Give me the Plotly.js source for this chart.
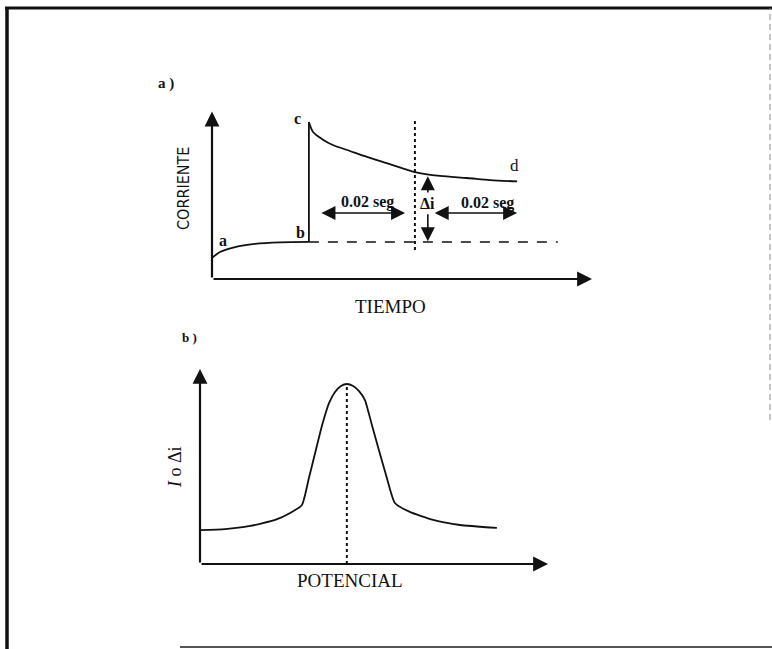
<!DOCTYPE html>
<html>
<head>
<meta charset="utf-8">
<script src="https://cdn.plot.ly/plotly-3.0.1.min.js"></script>
<style>html,body{margin:0;padding:0;background:#fff;}#chart{width:772px;height:649px;}</style>
</head>
<body>
<div id="chart"></div>
<script>
// ---- Panel a) : corriente vs tiempo (arbitrary units 0-100) ----
const tRise  = [0, 2.1, 6.1, 11.3, 17.9, 25.5];
const iRise  = [12.4, 15.9, 18.8, 20.6, 21.5, 21.8];
const tJump  = [25.5, 25.5];
const iJump  = [21.8, 92.4];
const tDecay = [25.5, 26.6, 28.9, 31.8, 36.3, 40.8, 46.8, 53.4, 60.0, 67.1, 73.2, 80.3];
const iDecay = [92.4, 86.5, 82.4, 78.8, 75.3, 71.8, 67.6, 62.9, 60.6, 59.4, 58.2, 57.4];
const tBase  = [25.5, 91];
const iBase  = [21.8, 21.8];
const tSample = [53.4, 53.4];
const iSample = [17, 93.5];

// ---- Panel b) : I o Δi vs potencial ----
const potB = [0, 7.2, 14.4, 21.6, 25.9, 29.3, 31.3, 33.3, 35.1, 37.1, 38.8, 40.5, 42.2, 44.0, 45.7, 47.4, 49.4, 51.4, 53.7, 56.0, 60.3, 67.0, 74.7, 85.3];
const curB = [17.4, 17.9, 19.5, 22.6, 26.2, 30.3, 44.1, 58.5, 71.3, 82.6, 88.2, 91.3, 92.3, 91.3, 88.7, 84.1, 71.3, 58.5, 44.1, 31.3, 26.7, 22.6, 20.0, 18.5];
const potPeak = [42.2, 42.2];
const curPeak = [0, 92.3];

const ink = '#111';
const serif = 'Liberation Serif, Times New Roman, serif';
const narrow = 'DejaVu Sans Condensed, Liberation Sans Narrow, Liberation Sans, Arial, sans-serif';

const traces = [
  {x: tRise, y: iRise, xaxis: 'x', yaxis: 'y', mode: 'lines', line: {color: ink, width: 1.8, shape: 'spline', smoothing: 0.8}},
  {x: tJump, y: iJump, xaxis: 'x', yaxis: 'y', mode: 'lines', line: {color: ink, width: 1.8}},
  {x: tDecay, y: iDecay, xaxis: 'x', yaxis: 'y', mode: 'lines', line: {color: ink, width: 1.8, shape: 'spline', smoothing: 0.8}},
  {x: tBase, y: iBase, xaxis: 'x', yaxis: 'y', mode: 'lines', line: {color: ink, width: 1.6, dash: '10px,9px'}},
  {x: tSample, y: iSample, xaxis: 'x', yaxis: 'y', mode: 'lines', line: {color: ink, width: 2, dash: '3px,3px'}},
  {x: potB, y: curB, xaxis: 'x2', yaxis: 'y2', mode: 'lines', line: {color: ink, width: 1.8, shape: 'spline', smoothing: 0.5}},
  {x: potPeak, y: curPeak, xaxis: 'x2', yaxis: 'y2', mode: 'lines', line: {color: ink, width: 2, dash: '3px,3px'}}
];

function arrow(xr, yr, x0, y0, x1, y1, w, s, both) {
  return {xref: xr, yref: yr, axref: xr, ayref: yr, x: x1, y: y1, ax: x0, ay: y0,
    text: '', showarrow: true, arrowhead: 2, arrowsize: s, arrowwidth: w, arrowcolor: ink,
    arrowside: both ? 'end+start' : 'end', startarrowhead: 2, startarrowsize: s};
}
function label(xr, yr, x, y, txt, size, fam, extra) {
  return Object.assign({xref: xr, yref: yr, x: x, y: y, text: txt, showarrow: false,
    font: {family: fam || serif, size: size, color: ink}, xanchor: 'center', yanchor: 'middle'}, extra || {});
}

const annotations = [
  // axes with arrows
  arrow('x', 'y', 0, 0, 0, 98.5, 2.2, 1.35, false),
  arrow('x', 'y', 0, 0, 100, 0, 2.2, 1.35, false),
  arrow('x2', 'y2', 0, 0, 0, 100, 2.2, 1.35, false),
  arrow('x2', 'y2', 0, 0, 100, 0, 2.2, 1.35, false),
  // interval arrows
  arrow('x', 'y', 28.4, 38.8, 50.8, 38.8, 1.6, 1.75, true),
  arrow('x', 'y', 58.2, 38.8, 80.3, 38.8, 1.6, 1.75, true),
  // Δi arrows
  arrow('x', 'y', 56.8, 50, 56.8, 60.4, 1.6, 1.75, false),
  arrow('x', 'y', 56.8, 39, 56.8, 22.2, 1.6, 1.75, false),
  // labels panel a
  label('x', 'y', 2.9, 22.9, '<b>a</b>', 16),
  label('x', 'y', 23.2, 27.6, '<b>b</b>', 16),
  label('x', 'y', 22.6, 94.7, '<b>c</b>', 16),
  label('x', 'y', 79.7, 66.5, 'd', 17),
  label('x', 'y', 40.8, 45.3, '<b>0.02 seg</b>', 16),
  label('x', 'y', 72.6, 44.6, '<b>0.02 seg</b>', 16),
  label('x', 'y', 56.8, 44.7, '<b>Δi</b>', 16),
  // titles
  label('paper', 'paper', 0.2150, 0.8706, '<b>a )</b>', 15),
  label('paper', 'paper', 0.2461, 0.4792, '<b>b )</b>', 13),
  label('paper', 'paper', 0.5052, 0.5270, 'TIEMPO', 19),
  label('paper', 'paper', 0.4534, 0.1048, 'POTENCIAL', 19),
  label('paper', 'paper', 0.2370, 0.7103, 'CORRIENTE', 16, narrow, {textangle: -90}),
  label('paper', 'paper', 0.2267, 0.2804, '<i>I</i> o Δi', 18, serif, {textangle: -90})
];

const hidden = {visible: false, showgrid: false, zeroline: false, fixedrange: true};
const layout = {
  width: 772, height: 649,
  margin: {l: 0, r: 0, t: 0, b: 0},
  paper_bgcolor: '#fff', plot_bgcolor: 'rgba(0,0,0,0)',
  showlegend: false,
  xaxis: Object.assign({domain: [0.25000, 0.79145], range: [-5, 105]}, hidden),
  yaxis: Object.assign({domain: [0.55701, 0.84515], range: [-5, 105]}, hidden),
  xaxis2: Object.assign({domain: [0.23653, 0.73238], range: [-5, 105]}, hidden),
  yaxis2: Object.assign({domain: [0.11595, 0.44646], range: [-5, 105]}, hidden),
  annotations: annotations,
  shapes: [
    {type: 'line', xref: 'paper', yref: 'paper', x0: 7/772, x1: 7/772, y0: 0, y1: 1 - 7/649, line: {color: ink, width: 3.5}},
    {type: 'line', xref: 'paper', yref: 'paper', x0: 5/772, x1: 1, y0: 1 - 8/649, y1: 1 - 8/649, line: {color: ink, width: 3}},
    {type: 'line', xref: 'paper', yref: 'paper', x0: 770/772, x1: 770/772, y0: 1 - 420/649, y1: 1 - 8/649, line: {color: '#888', width: 1, dash: '6px,4px'}},
    {type: 'line', xref: 'paper', yref: 'paper', x0: 180/772, x1: 1, y0: 1 - 647/649, y1: 1 - 647/649, line: {color: '#555', width: 2}}
  ]
};

Plotly.newPlot('chart', traces, layout, {staticPlot: true, displayModeBar: false});
</script>
</body>
</html>
